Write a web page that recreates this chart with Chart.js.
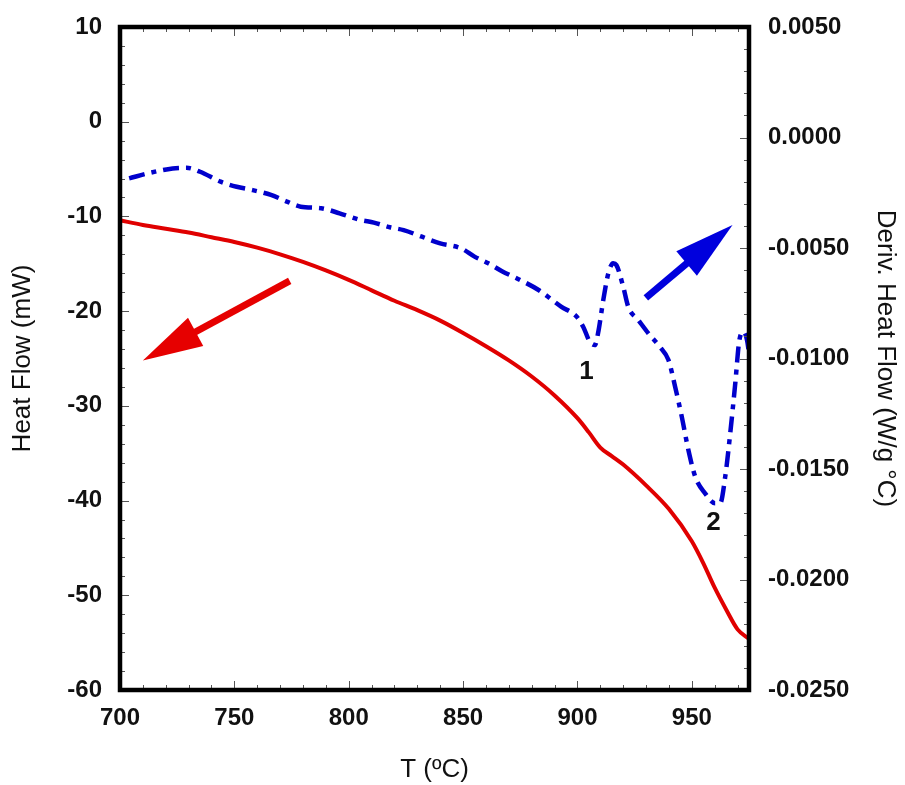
<!DOCTYPE html>
<html>
<head>
<meta charset="utf-8">
<script src="https://cdn.jsdelivr.net/npm/chart.js@4.4.1/dist/chart.umd.min.js"></script>
<style>
  html, body { margin: 0; padding: 0; background: #fff; }
  #wrap { width: 905px; height: 785px; }
</style>
</head>
<body>
<div id="wrap"><canvas id="c" width="905" height="785"></canvas></div>
<script>
// ---- Data ----
const heatT = [700,710,720,730,740,750,760,770,780,790,800,810,820,830,840,850,860,870,880,890,900,905,910,915,920,930,940,950,955,960,965,970,975];
const heatFlow = [-10.4,-10.9,-11.3,-11.7,-12.2,-12.7,-13.3,-14.0,-14.8,-15.7,-16.7,-17.8,-18.9,-19.9,-21.0,-22.3,-23.7,-25.2,-26.9,-28.9,-31.3,-32.8,-34.4,-35.3,-36.2,-38.4,-40.9,-44.3,-46.6,-49.2,-51.5,-53.6,-54.6];

const derivT = [704,713,723,729,735,744,751,758,766,773,779,788,796,805,811,818,824,832,840,849,855,861,867,875,883,893,899.6,902.5,905.4,907.6,909,911.3,913.5,915.6,917,920,922.2,926.6,931,936,939.8,942.7,945.6,948.5,951.5,955.8,960.2,962.4,964.6,966.8,969,970.8,972.7,974.2,975.3];
const derivHeat = [-0.00185,-0.0016,-0.0014,-0.00137,-0.00155,-0.0020,-0.00223,-0.00238,-0.0026,-0.0029,-0.00313,-0.0032,-0.00343,-0.00373,-0.00385,-0.00406,-0.00419,-0.00449,-0.00479,-0.00501,-0.00539,-0.00569,-0.00605,-0.00645,-0.0069,-0.00766,-0.0081,-0.00856,-0.00924,-0.00939,-0.00886,-0.00735,-0.00615,-0.00569,-0.00577,-0.00675,-0.00766,-0.00826,-0.00886,-0.00947,-0.01007,-0.01128,-0.01263,-0.01414,-0.01535,-0.0161,-0.01655,-0.01655,-0.01535,-0.01338,-0.01112,-0.00916,-0.00879,-0.0092,-0.0100];

const xTicks = [700,750,800,850,900,950];
const yLeftTicks = [10,0,-10,-20,-30,-40,-50,-60];
const yRightTicks = [0.005,0,-0.005,-0.010,-0.015,-0.020,-0.025];

// Annotations in data units (x: T, y: Heat Flow axis)
const peakLabels = [{text:'1', x:904, y:-26.4}, {text:'2', x:959.5, y:-42.4}];
const arrows = [
  {color:'#e60000', from:[774.2,-16.8], to:[710,-25.2]},
  {color:'#0000dd', from:[929.9,-18.6], to:[967.8,-10.9]}
];

const heatData = heatT.map((t,i)=>({x:t, y:heatFlow[i]}));
const derivData = derivT.map((t,i)=>({x:t, y:derivHeat[i]}));

const FONT = "'Liberation Sans', Arial, Helvetica, sans-serif";

const framePlugin = {
  id: 'frame',
  afterDatasetsDraw(chart) {
    const ctx = chart.ctx;
    const xs = chart.scales.x, yl = chart.scales.y;
    ctx.save();
    arrows.forEach(ar => {
      const x0 = xs.getPixelForValue(ar.from[0]), y0 = yl.getPixelForValue(ar.from[1]);
      const x1 = xs.getPixelForValue(ar.to[0]), y1 = yl.getPixelForValue(ar.to[1]);
      const dx = x1-x0, dy = y1-y0, L = Math.hypot(dx,dy);
      const ux = dx/L, uy = dy/L, px = -uy, py = ux;
      const headL = 60, headW = 32;
      const bx = x1 - ux*headL, by = y1 - uy*headL;
      ctx.strokeStyle = ar.color; ctx.fillStyle = ar.color;
      ctx.lineWidth = 7; ctx.lineCap = 'butt';
      ctx.beginPath(); ctx.moveTo(x0,y0); ctx.lineTo(bx+ux*2,by+uy*2); ctx.stroke();
      ctx.beginPath();
      ctx.moveTo(x1,y1);
      ctx.lineTo(bx+px*headW/2, by+py*headW/2);
      ctx.lineTo(bx-px*headW/2, by-py*headW/2);
      ctx.closePath(); ctx.fill();
    });
    ctx.fillStyle = '#111';
    ctx.font = 'bold 26px ' + FONT;
    ctx.textAlign = 'center'; ctx.textBaseline = 'middle';
    peakLabels.forEach(p => ctx.fillText(p.text, xs.getPixelForValue(p.x), yl.getPixelForValue(p.y)));
    ctx.restore();
  },
  afterDraw(chart) {
    const ctx = chart.ctx;
    const xs = chart.scales.x, yl = chart.scales.y, yr = chart.scales.y1;
    const a = chart.chartArea;
    ctx.save();
    ctx.strokeStyle = '#555'; ctx.lineWidth = 1;
    ctx.beginPath();
    for (let t = 700; t <= 975; t += 10) {
      const px = Math.round(xs.getPixelForValue(t)) + 0.5;
      const len = (t % 50 === 0) ? 9 : 5;
      ctx.moveTo(px, a.bottom); ctx.lineTo(px, a.bottom - len);
      ctx.moveTo(px, a.top); ctx.lineTo(px, a.top + len);
    }
    for (let v = -60; v <= 10; v += 2) {
      const py = Math.round(yl.getPixelForValue(v)) + 0.5;
      const len = (v % 10 === 0) ? 9 : 5;
      ctx.moveTo(a.left, py); ctx.lineTo(a.left + len, py);
    }
    for (let k = -25; k <= 5; k += 1) {
      const py = Math.round(yr.getPixelForValue(k/1000)) + 0.5;
      const len = (k % 5 === 0) ? 9 : 5;
      ctx.moveTo(a.right, py); ctx.lineTo(a.right - len, py);
    }
    ctx.stroke();
    ctx.strokeStyle = '#000'; ctx.lineWidth = 4.5;
    ctx.strokeRect(a.left, a.top, a.right - a.left, a.bottom - a.top);
    ctx.restore();
  }
};

new Chart(document.getElementById('c'), {
  type: 'line',
  data: {
    datasets: [
      { label: 'Heat Flow', data: heatData, yAxisID: 'y', borderColor: '#e00000', borderWidth: 4,
        pointRadius: 0, fill: false, cubicInterpolationMode: 'monotone' },
      { label: 'Deriv. Heat Flow', data: derivData, yAxisID: 'y1', borderColor: '#0000cc', borderWidth: 4.5,
        borderDash: [16,7,5,7], pointRadius: 0, fill: false, cubicInterpolationMode: 'monotone' }
    ]
  },
  options: {
    responsive: false,
    animation: false,
    events: [],
    layout: { padding: { top: 27, left: 0, right: 0, bottom: 0 } },
    plugins: { legend: { display: false }, tooltip: { enabled: false } },
    scales: {
      x: {
        type: 'linear', min: 700, max: 975,
        afterBuildTicks: s => { s.ticks = xTicks.map(v => ({value: v})); },
        afterFit: s => { s.height = 95; s.paddingLeft = 0; s.paddingRight = 0; },
        grid: { display: false, drawTicks: false }, border: { display: false },
        ticks: { padding: 14, color: '#111', font: { family: FONT, size: 24, weight: 'bold' } },
        title: { display: true, text: 'T (ºC)', color: '#111', padding: { top: 0, bottom: 0 },
                 font: { family: FONT, size: 26 } }
      },
      y: {
        type: 'linear', position: 'left', min: -60, max: 10,
        afterBuildTicks: s => { s.ticks = yLeftTicks.map(v => ({value: v})); },
        afterFit: s => { s.width = 120; s.paddingTop = 0; s.paddingBottom = 0; },
        grid: { display: false, drawTicks: false }, border: { display: false },
        ticks: { padding: 18, color: '#111', font: { family: FONT, size: 24, weight: 'bold' } },
        title: { display: true, text: 'Heat Flow (mW)', color: '#111', padding: { top: 7, bottom: 0 },
                 font: { family: FONT, size: 26 } }
      },
      y1: {
        type: 'linear', position: 'right', min: -0.025, max: 0.005,
        afterBuildTicks: s => { s.ticks = yRightTicks.map(v => ({value: v})); },
        afterFit: s => { s.width = 156; s.paddingTop = 0; s.paddingBottom = 0; },
        grid: { display: false, drawTicks: false }, border: { display: false },
        ticks: { padding: 19, color: '#111', font: { family: FONT, size: 24, weight: 'bold' },
                 callback: v => (Math.abs(v) < 1e-9 ? 0 : v).toFixed(4) },
        title: { display: true, text: 'Deriv. Heat Flow (W/g °C)', color: '#111', padding: { top: 4, bottom: 0 },
                 font: { family: FONT, size: 26 } }
      }
    }
  },
  plugins: [framePlugin]
});
</script>
</body>
</html>
